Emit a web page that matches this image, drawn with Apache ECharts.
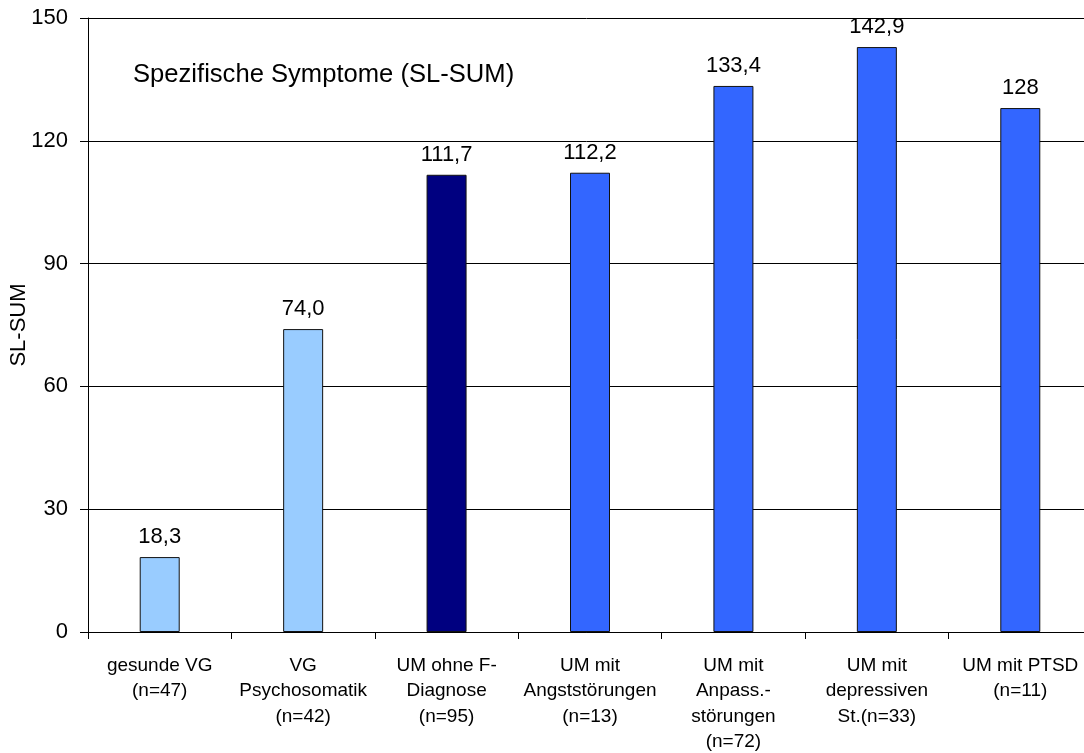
<!DOCTYPE html>
<html>
<head>
<meta charset="utf-8">
<title>Spezifische Symptome (SL-SUM)</title>
<script src="https://cdn.jsdelivr.net/npm/echarts@6/dist/echarts.min.js"></script>
<style>
  html, body { margin: 0; padding: 0; background: #fff; }
  #chart { width: 1084px; height: 753px; }
</style>
</head>
<body>
<div id="chart"></div>
<script>
// Gruppen (x-Achse), mit Zeilenumbrüchen wie beschriftet
const categories = [
  'gesunde VG\n(n=47)',
  'VG\nPsychosomatik\n(n=42)',
  'UM ohne F-\nDiagnose\n(n=95)',
  'UM mit\nAngststörungen\n(n=13)',
  'UM mit\nAnpass.-\nstörungen\n(n=72)',
  'UM mit\ndepressiven\nSt.(n=33)',
  'UM mit PTSD\n(n=11)'
];
// Mittelwerte SL-SUM je Gruppe
const values = [18.3, 74.0, 111.7, 112.2, 133.4, 142.9, 128];
// Nachkommastellen der Wertbeschriftung je Balken
const decimals = [1, 1, 1, 1, 1, 1, 0];
// Balkenfarben je Gruppe
const barColors = ['#99CCFF', '#99CCFF', '#000080', '#3366FF', '#3366FF', '#3366FF', '#3366FF'];
// y-Achse
const yMin = 0, yMax = 150, yStep = 30;

const FONT = '"Liberation Sans", Arial, sans-serif';

const chart = echarts.init(document.getElementById('chart'), null, { renderer: 'canvas' });

chart.setOption({
  backgroundColor: '#ffffff',
  animation: false,
  textStyle: { fontFamily: FONT, color: '#000' },
  title: {
    text: 'Spezifische Symptome (SL-SUM)',
    left: 128,
    top: 57,
    textStyle: { fontFamily: FONT, fontSize: 25.6, fontWeight: 'normal', color: '#000' }
  },
  grid: {
    left: 88, right: -8, top: 18, bottom: 121,
    containLabel: false,
    outerBoundsMode: 'none'
  },
  xAxis: {
    type: 'category',
    data: categories,
    axisLine: { show: true, lineStyle: { color: '#000', width: 1 } },
    axisTick: { show: true, inside: false, length: 7, lineStyle: { color: '#000' } },
    axisLabel: {
      interval: 0,
      margin: 21,
      fontFamily: FONT,
      fontSize: 19,
      lineHeight: 25.5,
      color: '#000',
      align: 'center',
      hideOverlap: false
    },
    splitLine: { show: false }
  },
  yAxis: {
    type: 'value',
    min: yMin,
    max: yMax,
    interval: yStep,
    name: 'SL-SUM',
    nameLocation: 'middle',
    nameGap: 58,
    nameRotate: 90,
    nameMoveOverlap: false,
    nameTextStyle: { fontFamily: FONT, fontSize: 22, color: '#000' },
    axisLine: { show: true, lineStyle: { color: '#000', width: 1 } },
    axisTick: { show: true, inside: false, length: 8, lineStyle: { color: '#000' } },
    axisLabel: { margin: 20, fontFamily: FONT, fontSize: 22, color: '#000' },
    splitLine: { show: true, lineStyle: { color: '#000', width: 1 } }
  },
  series: [{
    type: 'bar',
    barWidth: 40,
    data: values.map((v, i) => ({
      value: v,
      itemStyle: { color: barColors[i], borderColor: '#111', borderWidth: 1 }
    })),
    label: {
      show: true,
      position: 'top',
      distance: 9,
      fontFamily: FONT,
      fontSize: 22,
      color: '#000',
      formatter: p => values[p.dataIndex].toFixed(decimals[p.dataIndex]).replace('.', ',')
    }
  }]
});
</script>
</body>
</html>
